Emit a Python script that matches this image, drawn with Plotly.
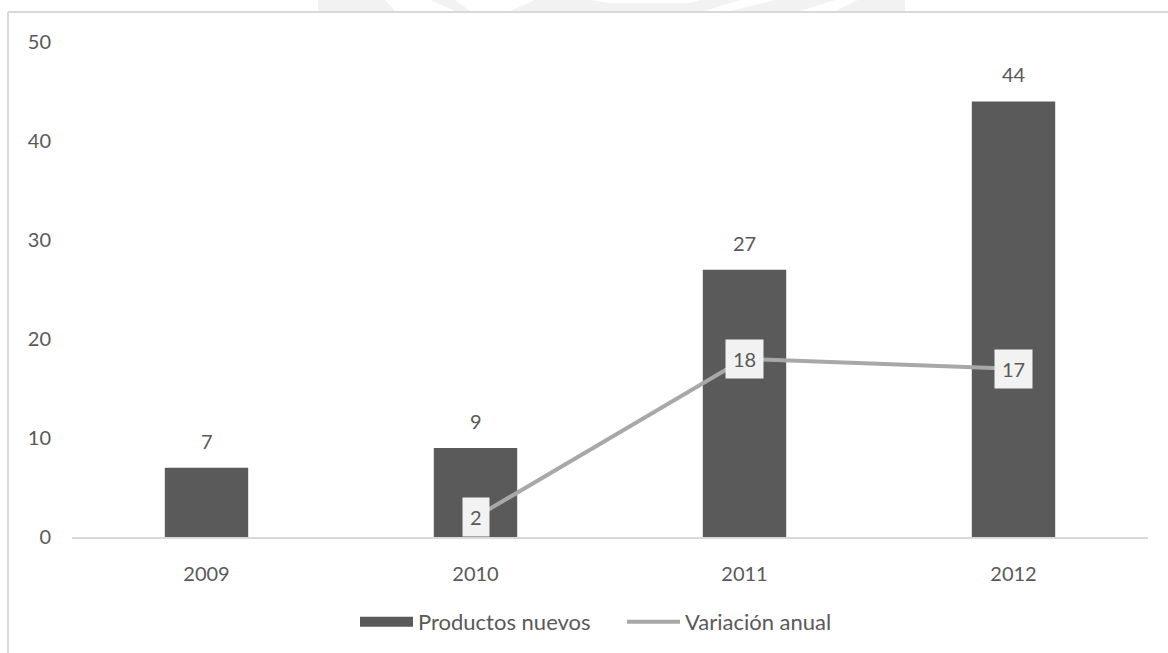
import plotly.graph_objects as go

years = ["2009", "2010", "2011", "2012"]
productos_nuevos = [7, 9, 27, 44]
var_years = ["2010", "2011", "2012"]
variacion_anual = [2, 18, 17]
y_ticks = [0, 10, 20, 30, 40, 50]

FONT = "Lato, 'Open Sans', sans-serif"
TXT = "#595959"
BAR = "#5A5A5A"
LINE = "#A8A8A8"

W, H = 1168, 653
L, R, T, B = 72, 20, 42, 116
pw, ph = W - L - R, H - T - B


def px(x):
    return (x - L) / pw


def py(y):
    return (H - B - y) / ph


fig = go.Figure()
fig.add_trace(go.Bar(
    x=years, y=productos_nuevos, name="Productos nuevos",
    marker=dict(color=BAR, line=dict(width=0)),
    showlegend=False,
))
# legend entry drawn as a wide block, like the reference
fig.add_trace(go.Scatter(
    x=[None], y=[None], name="Productos nuevos", mode="lines",
    line=dict(color=BAR, width=13), showlegend=True,
))
fig.add_trace(go.Scatter(
    x=var_years, y=variacion_anual, name="Variación anual",
    mode="lines", line=dict(color=LINE, width=4),
))
# bar value labels, set a little above each bar
for i, v in enumerate(productos_nuevos):
    fig.add_annotation(
        x=i, y=v, xref="x", yref="y", text=str(v), showarrow=False,
        yanchor="bottom", yshift=13,
        font=dict(family=FONT, size=20, color=TXT),
    )
for xv, yv in zip(var_years, variacion_anual):
    fig.add_annotation(
        x=years.index(xv), y=yv, xref="x", yref="y", text=str(yv), showarrow=False,
        bgcolor="#F2F2F2", borderpad=7,
        font=dict(family=FONT, size=20, color=TXT),
    )

shapes = []
# faint watermark band at the very top
shapes.append(dict(type="rect", xref="paper", yref="paper",
                   x0=px(318), x1=px(905), y0=py(11), y1=py(0),
                   fillcolor="#F2F2F2", line=dict(width=0), layer="below"))
for poly in [
    [(385, 0), (430, 0), (455, 11), (395, 11)],
    [(455, 0), (535, 0), (510, 11), (470, 11)],
    [(590, 0), (700, 0), (690, 3), (610, 3)],
    [(740, 0), (775, 0), (730, 11), (705, 11)],
    [(835, 0), (858, 0), (835, 11), (800, 11)],
]:
    path = "M " + " L ".join(f"{px(a)},{py(b)}" for a, b in poly) + " Z"
    shapes.append(dict(type="path", xref="paper", yref="paper", path=path,
                       fillcolor="#FFFFFF", line=dict(width=0), layer="below"))
# chart frame (top and left edges)
shapes.append(dict(type="line", xref="paper", yref="paper",
                   x0=px(8), x1=px(1168), y0=py(12), y1=py(12),
                   line=dict(color="#D9D9D9", width=2)))
shapes.append(dict(type="line", xref="paper", yref="paper",
                   x0=px(8), x1=px(8), y0=py(12), y1=py(653),
                   line=dict(color="#D9D9D9", width=2)))

fig.update_layout(
    width=W, height=H,
    margin=dict(l=L, r=R, t=T, b=B, pad=0, autoexpand=False),
    paper_bgcolor="white", plot_bgcolor="white",
    bargap=0.69,
    showlegend=True,
    legend=dict(orientation="h", x=px(355), xanchor="left", y=py(622), yanchor="middle",
                font=dict(family=FONT, size=22, color=TXT), itemwidth=53,
                entrywidth=199, entrywidthmode="pixels",
                traceorder="normal", bgcolor="rgba(0,0,0,0)"),
    font=dict(family=FONT, color=TXT),
    shapes=shapes,
    xaxis=dict(type="category", range=[-0.5, len(years) - 0.5], showgrid=False,
               showline=True, linecolor="#D9D9D9", linewidth=2, ticks="",
               ticklabelstandoff=18, tickfont=dict(family=FONT, size=20, color=TXT),
               zeroline=False),
    yaxis=dict(range=[0, 50], tickvals=y_ticks, showgrid=False, showline=False,
               zeroline=False, ticks="", ticklabelstandoff=20,
               tickfont=dict(family=FONT, size=20, color=TXT)),
)

fig.write_html("out.html")
